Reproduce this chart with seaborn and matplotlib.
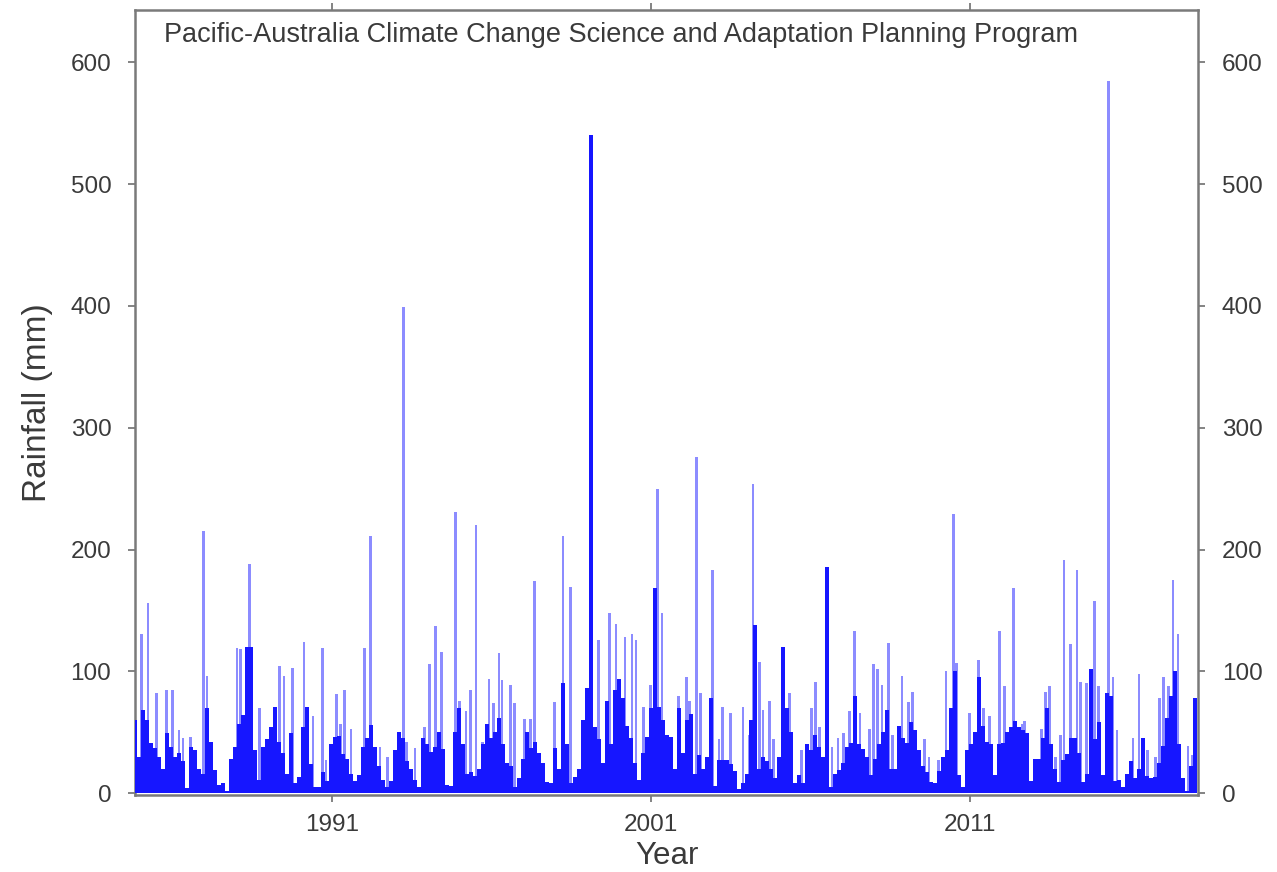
import numpy as np
import pandas as pd
import seaborn as sns
import matplotlib
matplotlib.use("Agg")
import matplotlib.pyplot as plt

# solid part of the record, one value per ~1.5 month step starting late 1984 (mm)
bulk_start = 1984.76
bulk_step = 0.1254
bulk_mm = [
    60, 30, 68, 60, 41, 37, 30, 20, 49, 38, 30, 33, 26, 4, 38, 35, 20, 16, 70, 42,
    19, 7, 8, 2, 28, 38, 57, 64, 120, 120, 35, 11, 38, 44, 54, 71, 42, 33, 16, 49,
    8, 13, 54, 71, 24,
    5, 5, 17, 10, 40, 46, 47, 32, 28, 16, 10, 15, 38, 45, 56, 38, 22, 11, 5, 10,
    35, 50, 45, 26, 20, 11, 5, 45, 40, 34, 38, 50, 36, 7, 6, 50, 70, 40, 16, 17,
    14, 20, 40, 57,
    45, 50, 62, 40, 25, 22, 5, 12, 28, 50, 37, 42, 33, 25, 9, 8, 37, 20, 90, 40,
    8, 13, 20, 60, 86, 540, 54, 44, 25, 76, 40, 85, 94, 78, 55, 45, 25, 11, 33, 46,
    70, 168, 71, 60,
    48, 46, 20, 70, 33, 60, 65, 16, 31, 20, 30, 78, 6, 27, 27, 27, 24, 18, 3, 8,
    16, 60, 138, 20, 30, 26, 20, 12, 30, 120, 70, 50, 8, 15, 8, 40, 35, 48, 38, 30,
    186, 5, 16, 19,
    25, 38, 41, 80, 40, 36, 30, 15, 28, 40, 50, 68, 20, 20, 55, 45, 41, 58, 52, 35,
    22, 17, 9, 8, 18, 30, 35, 70, 100, 15, 5, 35, 40, 50, 95, 55, 42, 40, 15, 40,
    41, 50, 54, 59, 54,
    52, 49, 10, 28, 28, 45, 70, 40, 20, 9, 27, 32, 45, 45, 33, 9, 16, 102, 44, 58,
    15, 82, 80, 10, 11, 5, 16, 26, 12, 20, 45, 14, 12, 13, 25, 39, 62, 80, 100, 40,
    12, 2, 22, 78,
]

# isolated wet days standing above the solid part
spike_year = [
    1985.02, 1985.23, 1985.49, 1985.81, 1985.99, 1986.20, 1986.33, 1986.56, 1986.96, 1987.08,
    1988.02, 1988.13, 1988.42, 1988.73, 1989.36, 1989.49, 1989.76, 1990.12, 1990.40, 1990.71,
    1990.81, 1991.13, 1991.27, 1991.39, 1991.59, 1992.01, 1992.21, 1992.50, 1992.73, 1993.24,
    1993.34, 1993.60, 1993.89, 1994.05, 1994.25, 1994.44, 1994.86, 1994.99, 1995.20, 1995.33,
    1995.51, 1995.71, 1995.92, 1996.07, 1996.23, 1996.33, 1996.59, 1996.71, 1997.03, 1997.22,
    1997.34, 1997.98, 1998.24, 1998.47, 1999.36, 1999.69, 1999.90, 2000.18, 2000.40, 2000.53,
    2000.77, 2000.98, 2001.21, 2001.34, 2001.86, 2002.11, 2002.21, 2002.42, 2002.54, 2002.92,
    2003.13, 2003.24, 2003.50, 2003.88, 2004.07, 2004.20, 2004.41, 2004.51, 2004.72, 2004.83,
    2005.33, 2005.71, 2006.04, 2006.16, 2006.29, 2006.67, 2006.86, 2007.03, 2007.22, 2007.37,
    2007.55, 2007.84, 2007.98, 2008.11, 2008.24, 2008.44, 2008.58, 2008.87, 2009.08, 2009.20,
    2009.57, 2009.71, 2010.01, 2010.25, 2010.48, 2010.58, 2010.98, 2011.27, 2011.43, 2011.61,
    2011.92, 2012.08, 2012.37, 2012.63, 2012.71, 2013.24, 2013.36, 2013.50, 2013.69, 2013.83,
    2013.95, 2014.14, 2014.35, 2014.46, 2014.65, 2014.91, 2015.03, 2015.35, 2015.48, 2015.61,
    2016.11, 2016.30, 2016.56, 2016.81, 2016.93, 2017.07, 2017.22, 2017.36, 2017.52, 2017.83,
    2017.97,
]
spike_mm = [
    131, 156, 82, 85, 85, 52, 45, 46, 215, 96,
    119, 118, 188, 70, 104, 96, 103, 124, 63, 119,
    27, 81, 57, 85, 53, 119, 211, 38, 30, 399,
    42, 37, 54, 106, 137, 116, 231, 76, 67, 85,
    220, 42, 94, 74, 115, 93, 89, 74, 61, 61,
    174, 75, 211, 169, 126, 148, 139, 128, 131, 126,
    71, 89, 250, 148, 80, 95, 76, 276, 82, 183,
    44, 71, 66, 71, 48, 254, 108, 68, 76, 44,
    82, 35, 70, 91, 54, 38, 45, 49, 67, 133,
    66, 53, 106, 102, 89, 123, 48, 96, 75, 83,
    44, 30, 27, 100, 229, 107, 66, 109, 70, 63,
    133, 88, 168, 57, 59, 53, 83, 88, 30, 48,
    191, 122, 183, 91, 90, 158, 88, 585, 95, 52,
    45, 98, 35, 30, 78, 95, 88, 175, 131, 39,
    31,
]

y_ticks = [0, 100, 200, 300, 400, 500, 600]
x_ticks = [1991, 2001, 2011]
title = "Pacific-Australia Climate Change Science and Adaptation Planning Program"

n = len(bulk_mm)
bulk = pd.DataFrame({"year": bulk_start + bulk_step * (np.arange(n) + 0.5),
                     "rain": bulk_mm})

sns.set_theme(style="white")
plt.rcParams["font.family"] = ["Liberation Sans", "DejaVu Sans"]
text_col = "#3a3a3a"

fig = plt.figure(figsize=(12.77, 8.72), dpi=100)
ax = fig.add_axes([0.1057, 0.0883, 0.8325, 0.9002])

ax.bar(spike_year, spike_mm, width=0.085, color="#8c8cff", linewidth=0, zorder=2)
sns.histplot(data=bulk, x="year", weights="rain", binwidth=bulk_step,
             binrange=(bulk_start, bulk_start + n * bulk_step), stat="count",
             color="#1616ff", alpha=1, linewidth=0, edgecolor="none", ax=ax, zorder=3)

ax.set_xlim(1984.82, 2018.15)
ax.set_ylim(-1.6, 643)
ax.set_xticks(x_ticks)
ax.set_yticks(y_ticks)
ax.tick_params(axis="both", which="major", direction="out", length=5, width=1.2,
               color="#6e6e6e", labelsize=17.5, labelcolor=text_col)
ax.tick_params(axis="y", right=True, left=True, labelright=True, pad=12)
ax.tick_params(axis="x", top=True, bottom=True, labeltop=False, pad=9)
for s in ax.spines.values():
    s.set_color("#7a7a7a")
    s.set_linewidth(1.8)
    s.set_visible(True)

ax.set_xlabel("Year", fontsize=22.5, color=text_col, labelpad=3)
ax.set_ylabel("Rainfall (mm)", fontsize=24, color=text_col, labelpad=13)
ax.text(0.027, 0.968, title, transform=ax.transAxes, fontsize=19.5,
        color=text_col, ha="left", va="center")

fig.savefig("out.png", dpi=100)
